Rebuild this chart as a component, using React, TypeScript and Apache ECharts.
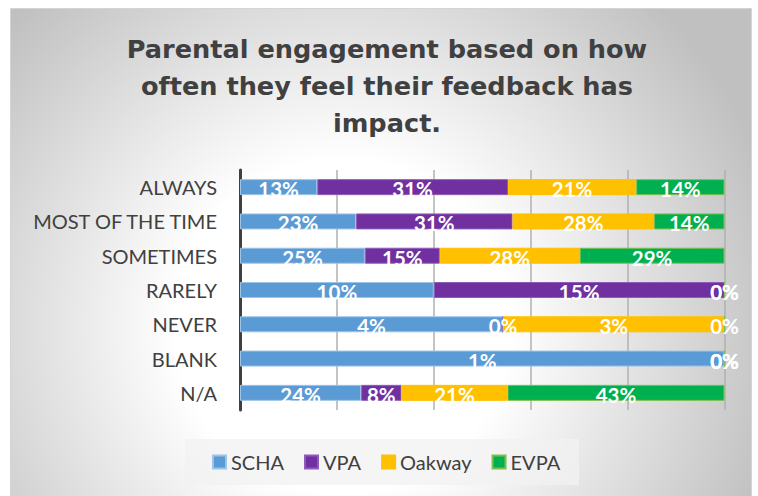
import React, { useEffect, useRef } from "react";
import * as echarts from "echarts";

const titleLines = [
  "Parental engagement based on how",
  "often they feel their feedback has",
  "impact.",
];
const categories = ["ALWAYS", "MOST OF THE TIME", "SOMETIMES", "RARELY", "NEVER", "BLANK", "N/A"];
const seriesNames = ["SCHA", "VPA", "Oakway", "EVPA"];
// percentage of each school's respondents (labels show these, bars are normalised per row)
const scha = [12.6, 23, 25, 10, 3.8, 1, 24];
const vpa = [31.1, 31, 15, 15, 0, 0, 8];
const oakway = [20.9, 28, 28, 0, 3.2, 0, 21];
const evpa = [14.4, 14, 29, 0, 0, 0, 43];

const colors = ["#5B9BD5", "#7030A0", "#FFC000", "#00B050"];
const borderColors = ["#9DC3E6", "#8E5CB8", "#FFC000", "#7DBF4E"];

export default function App() {
  const ref = useRef<HTMLDivElement>(null);
  useEffect(() => {
    const chart = echarts.init(ref.current!, null, { renderer: "svg" });
    const raw = [scha, vpa, oakway, evpa];
    const totals = categories.map((_, i) => raw.reduce((s, arr) => s + arr[i], 0));
    const series = raw.map((arr, k) => ({
      name: seriesNames[k],
      type: "bar",
      stack: "total",
      barWidth: 16,
      data: arr.map((v, i) => (v / totals[i]) * 100),
      itemStyle: { color: colors[k], borderColor: borderColors[k], borderWidth: 1 },
      label: {
        show: true,
        position: "inside",
        color: "#ffffff",
        fontFamily: "Lato",
        fontWeight: "bold",
        fontSize: 20.5,
        offset: [0, 2],
        formatter: (p: any) => Math.round(arr[p.dataIndex]) + "%",
      },
    }));

    chart.setOption({
      animation: false,
      backgroundColor: "#ffffff",
      title: {
        text: titleLines.join("\n"),
        left: 382,
        textAlign: "center",
        top: 25,
        textStyle: {
          fontFamily: "DejaVu Sans",
          fontWeight: "bold",
          fontSize: 25.6,
          lineHeight: 37,
          color: "#404040",
        },
      },
      graphic: {
        elements: [
          {
            type: "rect",
            z: -10,
            silent: true,
            shape: { x: 10.5, y: 8.5, width: 741, height: 500 },
            style: {
              fill: new echarts.graphic.RadialGradient(
                343,
                326,
                450,
                [
                  { offset: 0, color: "#ffffff" },
                  { offset: 0.37, color: "#ffffff" },
                  { offset: 1, color: "#c0c0c0" },
                ],
                true
              ),
              stroke: "#d4d4d4",
              lineWidth: 1,
            },
          },
          {
            type: "rect",
            z: -5,
            silent: true,
            shape: { x: 185, y: 439, width: 394, height: 46 },
            style: { fill: "rgba(242,242,242,0.75)" },
          },
        ],
      },
      legend: {
        data: seriesNames,
        left: 207,
        top: 447,
        icon: "rect",
        itemWidth: 13,
        itemHeight: 13,
        itemGap: 20,
        textStyle: { fontFamily: "Lato", fontSize: 20, color: "#404040" },
      },
      grid: { left: 240, right: 33.5, top: 170, bottom: 86 },
      xAxis: {
        type: "value",
        min: 0,
        max: 100,
        interval: 20,
        axisLabel: { show: false },
        axisLine: { show: false },
        axisTick: { show: false },
        splitLine: { show: true, lineStyle: { color: "#b0b0b0", width: 1.5 } },
      },
      yAxis: {
        type: "category",
        data: categories,
        inverse: true,
        axisLine: { show: true, lineStyle: { color: "#404040", width: 3 } },
        axisTick: { show: false },
        axisLabel: { fontFamily: "Lato", fontSize: 20, color: "#404040", margin: 23 },
      },
      series,
    });
    return () => chart.dispose();
  }, []);
  return (
    <div
      ref={ref}
      style={{ position: "fixed", left: 0, top: 0, width: 758, height: 496 }}
    />
  );
}
